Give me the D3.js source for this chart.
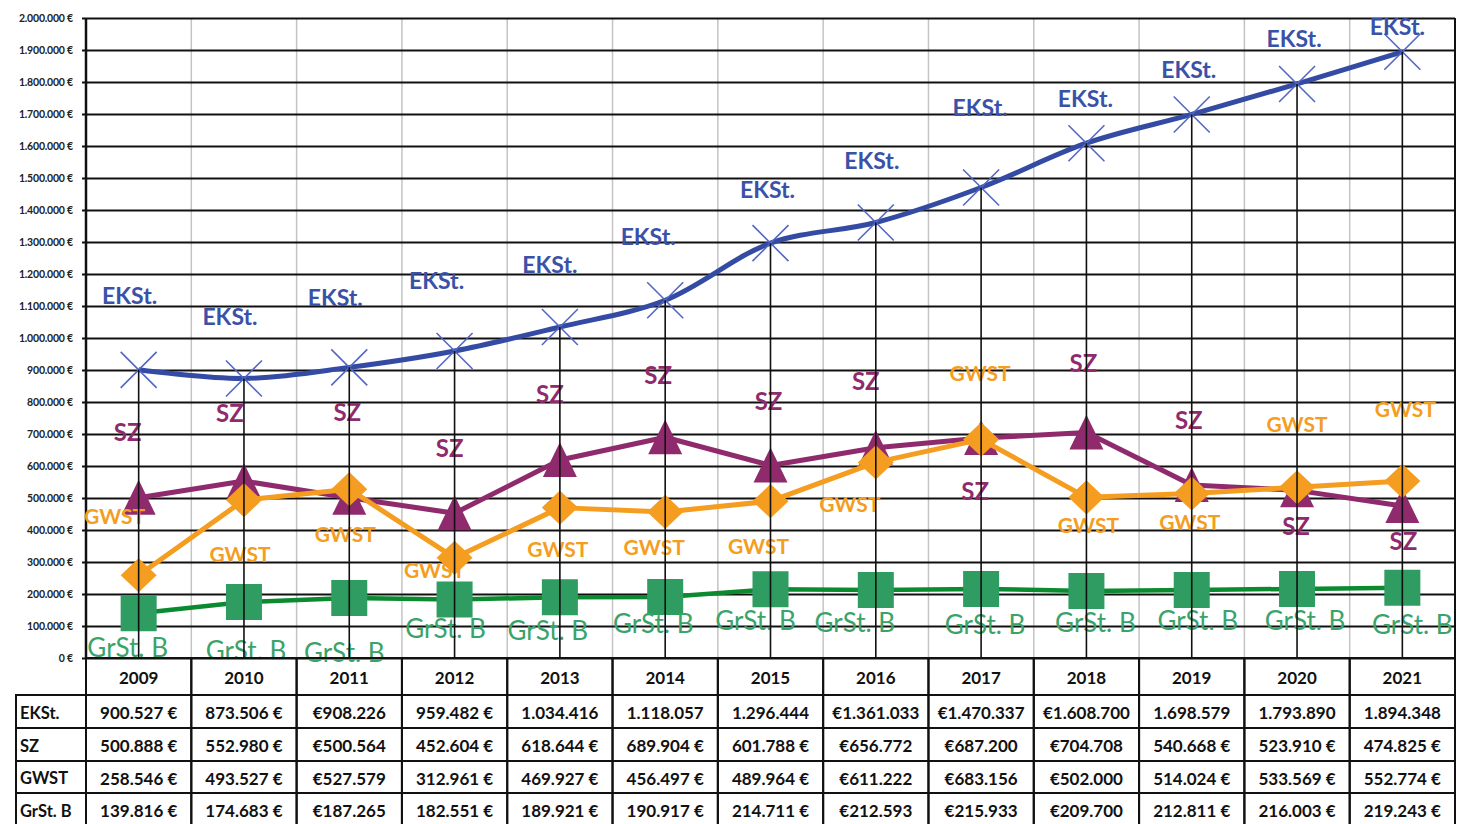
<!DOCTYPE html>
<html>
<head>
<meta charset="utf-8">
<script src="https://cdn.jsdelivr.net/npm/d3@7"></script>
<style>
  body { margin: 0; background: #fff; }
  text { font-family: Lato, "Open Sans", sans-serif; }
</style>
</head>
<body>
<script>
var years = ["2009","2010","2011","2012","2013","2014","2015","2016","2017","2018","2019","2020","2021"];
var eksValues = [900527, 873506, 908226, 959482, 1034416, 1118057, 1296444, 1361033, 1470337, 1608700, 1698579, 1793890, 1894348];
var szValues = [500888, 552980, 500564, 452604, 618644, 689904, 601788, 656772, 687200, 704708, 540668, 523910, 474825];
var gwstValues = [258546, 493527, 527579, 312961, 469927, 456497, 489964, 611222, 683156, 502000, 514024, 533569, 552774];
var grstValues = [139816, 174683, 187265, 182551, 189921, 190917, 214711, 212593, 215933, 209700, 212811, 216003, 219243];

// table texts, as printed
var eksText = ["900.527 €","873.506 €","€908.226","959.482 €","1.034.416","1.118.057","1.296.444","€1.361.033","€1.470.337","€1.608.700","1.698.579","1.793.890","1.894.348"];
var szText = ["500.888 €","552.980 €","€500.564","452.604 €","618.644 €","689.904 €","601.788 €","€656.772","€687.200","€704.708","540.668 €","523.910 €","474.825 €"];
var gwstText = ["258.546 €","493.527 €","€527.579","312.961 €","469.927 €","456.497 €","489.964 €","€611.222","€683.156","€502.000","514.024 €","533.569 €","552.774 €"];
var grstText = ["139.816 €","174.683 €","€187.265","182.551 €","189.921 €","190.917 €","214.711 €","€212.593","€215.933","€209.700","212.811 €","216.003 €","219.243 €"];

var yTicks = d3.range(0, 2000001, 100000);

// label offsets from each point (layout only)
var eksDx = [-9,-14,-14,-18,-10,-17,-3,-4,-1,-1,-3,-3,-5];
var eksDy = [-75,-62,-70,-71,-63,-64,-54,-62,-80,-45,-45,-46,-26];
var szDx = [-11,-14,-2,-5,-10,-7,-2,-10,-6,-3,-3,-1,1];
var szDy = [-66,-69,-86,-66,-67,-63,-65,-67,52,-70,-65,35,34];
var gwstDx = [-24,-4,-4,-20,-2,-11,-12,-26,-1,2,-2,0,3];
var gwstDy = [-60,53,44,12,41,35,44,41,-67,27,28,-64,-73];
var grstDx = [-11,2,-5,-9,-12,-12,-15,-21,4,9,6,8,10];
var grstDy = [34,48,54,28,33,26,31,32,35,31,30,31,36];

var W = 1462, H = 824;
var mLeft = 86, mRight = 1455, mTop = 18, mBottom = 658;

var svg = d3.select("body").append("svg")
    .attr("width", W)
    .attr("height", H);

var x = d3.scaleBand().domain(years).range([mLeft, mRight]);
var y = d3.scaleLinear().domain([0, 2000000]).range([mBottom, mTop]);
var cx = function(d){ return x(d) + x.bandwidth() / 2; };

var de = d3.formatLocale({ decimal: ",", thousands: ".", grouping: [3], currency: ["", " €"] });
var fmt = de.format(",");

// light vertical lines on category borders
svg.append("g").selectAll("line")
  .data(years.slice(1))
  .enter().append("line")
    .attr("x1", function(d){ return x(d); })
    .attr("x2", function(d){ return x(d); })
    .attr("y1", mTop).attr("y2", mBottom)
    .attr("stroke", "#c4c4c4")
    .attr("stroke-width", 1.5);

// y axis with horizontal grid
var yAxis = svg.append("g")
    .attr("transform", "translate(" + mLeft + ",0)")
    .call(d3.axisLeft(y)
      .tickValues(yTicks)
      .tickSize(-(mRight - mLeft))
      .tickPadding(13)
      .tickFormat(function(d){ return fmt(d) + " €"; }));
yAxis.select(".domain").remove();
yAxis.selectAll(".tick line")
    .attr("x1", -4)
    .attr("stroke", "#111")
    .attr("stroke-width", 2);
yAxis.selectAll(".tick text")
    .attr("fill", "#222")
    .style("font-size", "10.5px")
    .style("font-weight", "bold")
    .style("letter-spacing", "-0.2px");

// frame
svg.append("line").attr("x1", mLeft).attr("x2", mLeft).attr("y1", mTop).attr("y2", mBottom)
    .attr("stroke", "#111").attr("stroke-width", 2.5);
svg.append("line").attr("x1", mRight).attr("x2", mRight).attr("y1", mTop).attr("y2", mBottom)
    .attr("stroke", "#111").attr("stroke-width", 2);

var series = [
  { name: "GrSt. B", values: grstValues, line: "#0b8a2f", mark: "#2f9c62", lw: 4.5, shape: "square", size: 36,
    curve: d3.curveLinear, label: "#3aa36a", fs: 26, fw: "normal", dx: grstDx, dy: grstDy },
  { name: "SZ", values: szValues, line: "#8f2b6c", mark: "#8f2b6c", lw: 5, shape: "triangle", size: 34,
    curve: d3.curveLinear, label: "#8f2b6c", fs: 24, fw: "bold", dx: szDx, dy: szDy },
  { name: "GWST", values: gwstValues, line: "#f49d20", mark: "#f49d20", lw: 5, shape: "diamond", size: 36,
    curve: d3.curveLinear, label: "#f49d20", fs: 21, fw: "bold", dx: gwstDx, dy: gwstDy },
  { name: "EKSt.", values: eksValues, line: "#344ba3", mark: "#5367c4", lw: 5, shape: "cross", size: 36,
    curve: d3.curveCatmullRom, label: "#3a51a8", fs: 23, fw: "bold", dx: eksDx, dy: eksDy }
];

function markerPath(shape, s){
  var h = s / 2;
  if (shape === "square") return "M" + (-h) + "," + (-h) + "h" + s + "v" + s + "h" + (-s) + "Z";
  if (shape === "diamond") return "M0," + (-h * 0.95) + "L" + h + ",0L0," + (h * 0.95) + "L" + (-h) + ",0Z";
  if (shape === "triangle") return "M0," + (-h * 1.05) + "L" + h + "," + h + "L" + (-h) + "," + h + "Z";
  return "M" + (-h) + "," + (-h) + "L" + h + "," + h + "M" + h + "," + (-h) + "L" + (-h) + "," + h;
}

series.forEach(function(s){
  var g = svg.append("g");
  var line = d3.line()
      .x(function(d, i){ return cx(years[i]); })
      .y(function(d){ return y(d); })
      .curve(s.curve);

  g.append("path")
    .datum(s.values)
    .attr("d", line)
    .attr("fill", "none")
    .attr("stroke", s.line)
    .attr("stroke-width", s.lw)
    .attr("stroke-linejoin", "round");

  g.selectAll(".m")
    .data(s.values)
    .enter().append("path")
      .attr("transform", function(d, i){ return "translate(" + cx(years[i]) + "," + y(d) + ")"; })
      .attr("d", markerPath(s.shape, s.size))
      .attr("fill", s.shape === "cross" ? "none" : s.mark)
      .attr("stroke", s.mark)
      .attr("stroke-width", s.shape === "cross" ? 1.6 : 0);
});

// data labels
series.forEach(function(s){
  svg.append("g").selectAll("text")
    .data(s.values)
    .enter().append("text")
      .attr("x", function(d, i){ return cx(years[i]) + s.dx[i]; })
      .attr("y", function(d, i){ return y(d) + s.dy[i]; })
      .attr("text-anchor", "middle")
      .attr("dominant-baseline", "central")
      .attr("fill", s.label)
      .style("font-size", s.fs + "px")
      .style("font-weight", s.fw)
      .text(s.name);
});

// drop lines from the highest point down to the axis
svg.append("g").selectAll("line")
  .data(years)
  .enter().append("line")
    .attr("x1", cx).attr("x2", cx)
    .attr("y1", function(d, i){ return y(d3.max(series, function(s){ return s.values[i]; })); })
    .attr("y2", mBottom)
    .attr("stroke", "#111")
    .attr("stroke-width", 1.6);

// data table under the chart
var rowTop = [695, 728, 761, 793];
var rowH = [33, 33, 32, 33];
var rowNames = ["EKSt.", "SZ", "GWST", "GrSt. B"];
var rowTexts = [eksText, szText, gwstText, grstText];
var tbl = svg.append("g");

years.forEach(function(yr){
  tbl.append("rect")
    .attr("x", x(yr)).attr("y", mBottom)
    .attr("width", x.bandwidth()).attr("height", rowTop[0] - mBottom)
    .attr("fill", "none").attr("stroke", "#111").attr("stroke-width", 2);
  tbl.append("text")
    .attr("x", cx(yr)).attr("y", (mBottom + rowTop[0]) / 2 + 1)
    .attr("text-anchor", "middle").attr("dominant-baseline", "central")
    .style("font-size", "17px").style("font-weight", "bold").attr("fill", "#111")
    .text(yr);
});

rowNames.forEach(function(name, r){
  tbl.append("rect")
    .attr("x", 16).attr("y", rowTop[r])
    .attr("width", mLeft - 16).attr("height", rowH[r])
    .attr("fill", "none").attr("stroke", "#111").attr("stroke-width", 2);
  tbl.append("text")
    .attr("x", 20).attr("y", rowTop[r] + rowH[r] / 2 + 1)
    .attr("dominant-baseline", "central")
    .style("font-size", "16.5px").style("font-weight", "bold").attr("fill", "#111")
    .text(name);
  years.forEach(function(yr, i){
    tbl.append("rect")
      .attr("x", x(yr)).attr("y", rowTop[r])
      .attr("width", x.bandwidth()).attr("height", rowH[r])
      .attr("fill", "none").attr("stroke", "#111").attr("stroke-width", 2);
    tbl.append("text")
      .attr("x", cx(yr)).attr("y", rowTop[r] + rowH[r] / 2 + 1)
      .attr("text-anchor", "middle").attr("dominant-baseline", "central")
      .style("font-size", "17px").style("font-weight", "bold").attr("fill", "#111")
      .text(rowTexts[r][i]);
  });
});
</script>
</body>
</html>
